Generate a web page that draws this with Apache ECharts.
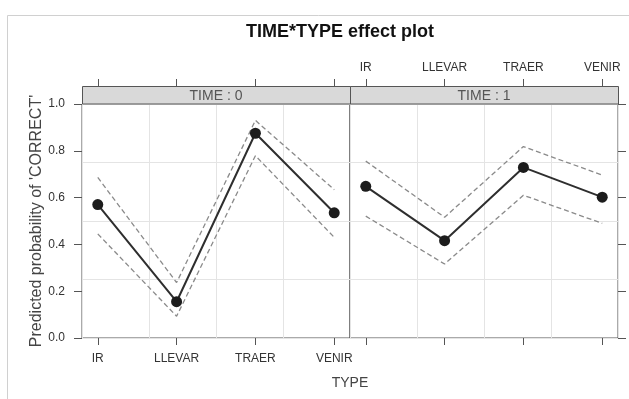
<!DOCTYPE html>
<html>
<head>
<meta charset="utf-8">
<script src="https://cdn.jsdelivr.net/npm/echarts@6/dist/echarts.min.js"></script>
<style>
  html, body { margin: 0; padding: 0; background: #fff; }
  #container { width: 629px; height: 399px; }
</style>
</head>
<body>
<div id="container"></div>
<script>
var dom = document.getElementById("container");
var myChart = echarts.init(dom);

// categories of TYPE
var types = ['IR', 'LLEVAR', 'TRAER', 'VENIR'];
var panels = ['TIME : 0', 'TIME : 1'];

// TIME = 0
var fit0 = [0.57, 0.155, 0.875, 0.535];
var lower0 = [0.445, 0.093, 0.779, 0.43];
var upper0 = [0.686, 0.237, 0.93, 0.634];
// TIME = 1
var fit1 = [0.648, 0.416, 0.729, 0.602];
var lower1 = [0.521, 0.316, 0.61, 0.49];
var upper1 = [0.756, 0.516, 0.818, 0.696];

var font = 'Liberation Sans, Arial, sans-serif';
var idx = types.map(function (t, i) { return i; });

function pairs(vals) {
  return vals.map(function (v, i) { return [i, v]; });
}

var grids = [
  { left: 82, right: 279, top: 104, bottom: 61 },
  { left: 350, right: 11, top: 104, bottom: 61 }
];

function tickStyle() {
  return { show: true, inside: false, length: 7, lineStyle: { color: '#555' }, customValues: idx };
}

var xAxes = [];
var yAxes = [];
grids.forEach(function (g, k) {
  // data axis bottom
  xAxes.push({
    type: 'value', gridIndex: k, position: 'bottom', min: -0.2, max: 3.2,
    axisLine: { show: false, onZero: false }, splitLine: { show: false },
    axisTick: tickStyle(),
    axisLabel: {
      show: k === 0, customValues: idx, margin: 15,
      color: '#333', fontSize: 12, fontFamily: font,
      formatter: function (v) { return types[Math.round(v)]; }
    }
  });
  // top axis above the strip
  xAxes.push({
    type: 'value', gridIndex: k, position: 'top', offset: 18, min: -0.2, max: 3.2,
    axisLine: { show: false, onZero: false }, splitLine: { show: false },
    axisTick: tickStyle(),
    axisLabel: {
      show: k === 1, customValues: idx, margin: 12,
      color: '#333', fontSize: 12, fontFamily: font,
      formatter: function (v) { return types[Math.round(v)]; }
    }
  });
  // grid lines
  xAxes.push({
    type: 'value', gridIndex: k, min: 0, max: 4, interval: 1,
    axisLine: { show: false, onZero: false }, axisTick: { show: false }, axisLabel: { show: false },
    splitLine: { show: true, lineStyle: { color: '#e4e4e4', width: 1 } }
  });

  yAxes.push({
    type: 'value', gridIndex: k, position: k === 0 ? 'left' : 'right',
    min: 0, max: 1, interval: 0.2,
    axisLine: { show: false, onZero: false }, splitLine: { show: false },
    axisTick: { show: true, length: 8, lineStyle: { color: '#555' } },
    axisLabel: {
      show: k === 0, color: '#333', fontSize: 12, fontFamily: font, margin: 17,
      formatter: function (v) { return v.toFixed(1); }
    },
    name: k === 0 ? "Predicted probability of 'CORRECT'" : '',
    nameLocation: 'middle', nameGap: 36,
    nameTextStyle: { color: '#444', fontSize: 16, fontFamily: font }
  });
  yAxes.push({
    type: 'value', gridIndex: k, min: 0, max: 1, interval: 0.25,
    axisLine: { show: false, onZero: false }, axisTick: { show: false }, axisLabel: { show: false },
    splitLine: { show: true, lineStyle: { color: '#e4e4e4', width: 1 } }
  });
});

var series = [];
[[fit0, lower0, upper0], [fit1, lower1, upper1]].forEach(function (set, k) {
  var xi = k * 3, yi = k * 2;
  [set[1], set[2]].forEach(function (band) {
    series.push({
      type: 'line', xAxisIndex: xi, yAxisIndex: yi, data: pairs(band),
      showSymbol: false, silent: true, z: 3,
      lineStyle: { color: '#8a8a8a', width: 1.3, type: [5, 3] }
    });
  });
  series.push({
    type: 'line', xAxisIndex: xi, yAxisIndex: yi, data: pairs(set[0]),
    symbol: 'circle', symbolSize: 11, z: 4,
    itemStyle: { color: '#1c1c1c' },
    lineStyle: { color: '#2e2e2e', width: 2 }
  });
});

var graphics = [
  { type: 'rect', shape: { x: 7.5, y: 15.5, width: 640, height: 400 },
    style: { fill: 'none', stroke: '#d0d0d0', lineWidth: 1 }, z: 0 }
];
grids.forEach(function (g, k) {
  var x = g.left, w = 629 - g.right - g.left;
  graphics.push({
    type: 'rect', shape: { x: x + 0.5, y: 86.5, width: w, height: 17.5 },
    style: { fill: '#d9d9d9', stroke: '#555', lineWidth: 1 }, z: 5
  });
  graphics.push({
    type: 'text', x: x + w / 2, y: 96, z: 6,
    style: { text: panels[k], fill: '#555', font: '14px ' + font, align: 'center', verticalAlign: 'middle' }
  });
});
graphics.push({
  type: 'text', x: 350, y: 383,
  style: { text: 'TYPE', fill: '#444', font: '14px ' + font, align: 'center', verticalAlign: 'middle' }
});

option = {
  backgroundColor: '#fff',
  animation: false,
  title: {
    text: 'TIME*TYPE effect plot', left: 335, top: 18, textAlign: 'center',
    textStyle: { fontSize: 18, fontWeight: 'bold', color: '#111', fontFamily: font }
  },
  grid: grids.map(function (g) {
    return { left: g.left, right: g.right, top: g.top, bottom: g.bottom,
      show: true, borderColor: '#555', borderWidth: 1, backgroundColor: 'transparent' };
  }),
  xAxis: xAxes,
  yAxis: yAxes,
  graphic: graphics,
  series: series
};

if (option && typeof option === "object") {
  myChart.setOption(option, true);
}
</script>
</body>
</html>
